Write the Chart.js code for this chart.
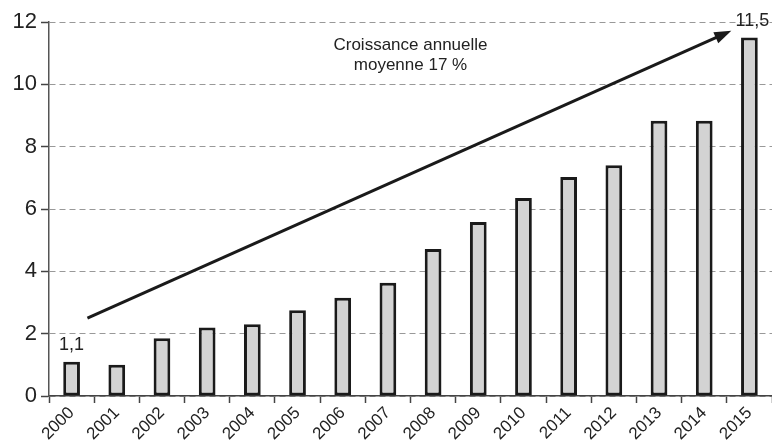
<!DOCTYPE html>
<html>
<head>
<meta charset="utf-8">
<script src="https://cdn.jsdelivr.net/npm/chart.js@4/dist/chart.umd.min.js"></script>
<style>
  html, body { margin: 0; padding: 0; background: #fff; }
  #wrap { width: 772px; height: 440px; }
</style>
</head>
<body>
<div id="wrap"><canvas id="chart"></canvas></div>
<script>
// données
const annees = ['2000', '2001', '2002', '2003', '2004', '2005', '2006', '2007',
                '2008', '2009', '2010', '2011', '2012', '2013', '2014', '2015'];
const valeurs = [1.1, 1.0, 1.85, 2.2, 2.3, 2.75, 3.15, 3.63, 4.72, 5.58, 6.35, 7.03, 7.4, 8.83, 8.83, 11.5];
const ticksY = [0, 2, 4, 6, 8, 10, 12];
const annotation = ['Croissance annuelle', 'moyenne 17 %'];
// flèche en unités des axes (index de catégorie, valeur)
const flecheDebut = [0.35, 2.5];
const flecheFin = [14.6, 11.72];

const police = '"Liberation Sans", Arial, sans-serif';

// flèche, texte et étiquettes
const decorations = {
    id: 'decorations',
    afterDatasetsDraw(chart) {
        const ctx = chart.ctx;
        const x = chart.scales.x, y = chart.scales.y;
        const meta = chart.getDatasetMeta(0);
        ctx.save();

        // flèche
        const x1 = x.getPixelForValue(flecheDebut[0]), y1 = y.getPixelForValue(flecheDebut[1]);
        const x2 = x.getPixelForValue(flecheFin[0]), y2 = y.getPixelForValue(flecheFin[1]);
        const ang = Math.atan2(y2 - y1, x2 - x1);
        ctx.strokeStyle = '#1a1a1a';
        ctx.fillStyle = '#1a1a1a';
        ctx.lineWidth = 3;
        ctx.beginPath();
        ctx.moveTo(x1, y1);
        ctx.lineTo(x2 - 12 * Math.cos(ang), y2 - 12 * Math.sin(ang));
        ctx.stroke();
        ctx.beginPath();
        ctx.moveTo(x2, y2);
        ctx.lineTo(x2 - 17 * Math.cos(ang) + 6 * Math.sin(ang), y2 - 17 * Math.sin(ang) - 6 * Math.cos(ang));
        ctx.lineTo(x2 - 17 * Math.cos(ang) - 6 * Math.sin(ang), y2 - 17 * Math.sin(ang) + 6 * Math.cos(ang));
        ctx.closePath();
        ctx.fill();

        // texte de croissance
        ctx.fillStyle = '#222';
        ctx.font = '17px ' + police;
        ctx.textAlign = 'center';
        ctx.textBaseline = 'middle';
        const tx = x.getPixelForValue(7.5);
        ctx.fillText(annotation[0], tx, y.getPixelForValue(11.25));
        ctx.fillText(annotation[1], tx, y.getPixelForValue(10.6));

        // étiquettes première et dernière barre
        ctx.font = '18px ' + police;
        ctx.textBaseline = 'bottom';
        [0, valeurs.length - 1].forEach(i => {
            const bar = meta.data[i];
            const txt = String(valeurs[i]).replace('.', ',');
            ctx.fillText(txt, bar.x + (i ? 3 : 0), bar.y - 8);
        });
        ctx.restore();
    }
};

new Chart(document.getElementById('chart').getContext('2d'), {
    type: 'bar',
    data: {
        labels: annees,
        datasets: [{
            data: valeurs,
            backgroundColor: '#d3d3d3',
            borderColor: '#1a1a1a',
            borderWidth: 3,
            borderSkipped: false,
            barPercentage: 0.37,
            categoryPercentage: 1.0
        }]
    },
    options: {
        responsive: true,
        maintainAspectRatio: false,
        animation: false,
        layout: { padding: { top: 22, right: 0, left: 0, bottom: 0 } },
        plugins: {
            legend: { display: false },
            tooltip: { enabled: false }
        },
        scales: {
            x: {
                grid: {
                    drawOnChartArea: false,
                    drawTicks: true,
                    tickLength: 7,
                    tickColor: '#444',
                    tickWidth: 1.5
                },
                border: { color: '#444', width: 1.5 },
                ticks: {
                    color: '#222',
                    font: { family: police, size: 17 },
                    minRotation: 45,
                    maxRotation: 45,
                    padding: 0
                },
                afterFit(scale) { scale.height = 44; }
            },
            y: {
                min: 0,
                max: 12,
                afterBuildTicks(scale) { scale.ticks = ticksY.map(v => ({ value: v })); },
                grid: {
                    color: '#999',
                    lineWidth: 1,
                    drawTicks: true,
                    tickLength: 8,
                    tickColor: '#444',
                    tickWidth: 1.5,
                    tickBorderDash: []
                },
                border: { color: '#555', width: 1.5, dash: [6, 4] },
                ticks: {
                    color: '#222',
                    font: { family: police, size: 22 },
                    padding: 4
                },
                afterFit(scale) { scale.width = 49; }
            }
        }
    },
    plugins: [decorations]
});
</script>
</body>
</html>
